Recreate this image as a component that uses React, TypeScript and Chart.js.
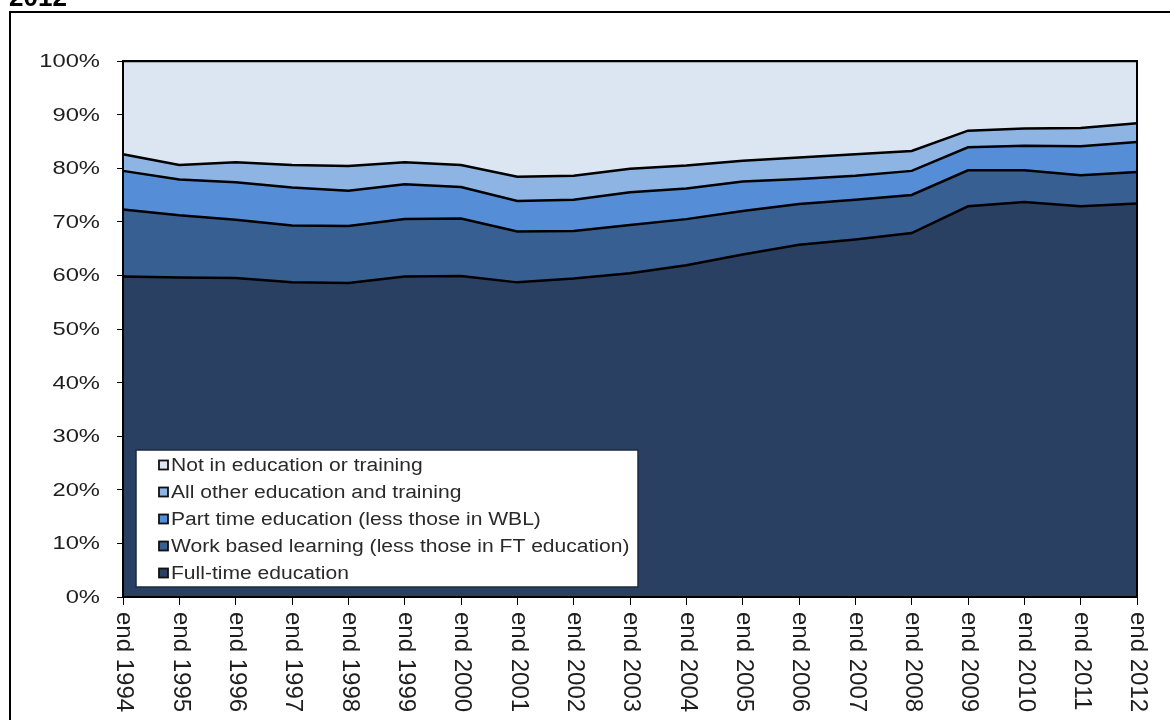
import React, { useEffect, useRef } from "react";
import { Chart, registerables } from "chart.js";

Chart.register(...registerables);

const years = ["1994","1995","1996","1997","1998","1999","2000","2001","2002","2003","2004","2005","2006","2007","2008","2009","2010","2011","2012"];
const categories = years.map((y) => "end " + y);

const fullTime = [59.8,59.6,59.5,58.7,58.6,59.8,59.9,58.7,59.4,60.4,61.9,63.9,65.7,66.7,67.9,72.9,73.7,72.9,73.4];
const workBased = [12.5,11.6,10.9,10.6,10.6,10.7,10.7,9.5,8.9,9.0,8.6,8.1,7.6,7.4,7.1,6.7,5.9,5.8,5.9];
const partTime = [7.2,6.7,7.0,7.1,6.6,6.5,5.9,5.7,5.8,6.1,5.7,5.5,4.7,4.5,4.5,4.3,4.6,5.4,5.6];
const allOther = [3.1,2.7,3.7,4.2,4.6,4.1,4.1,4.5,4.5,4.4,4.3,3.9,4.0,4.0,3.7,3.1,3.2,3.4,3.5];
const notInEd = [17.4,19.4,18.9,19.4,19.6,18.9,19.4,21.6,21.4,20.1,19.5,18.6,18.0,17.4,16.8,13.0,12.6,12.5,11.6];

const yTicks = [0,10,20,30,40,50,60,70,80,90,100];

const seriesNames = [
  "Full-time education",
  "Work based learning (less those in FT education)",
  "Part time education (less those in WBL)",
  "All other education and training",
  "Not in education or training",
];
const seriesColors = ["#2a4063", "#385f91", "#558dd6", "#8eb4e3", "#dce6f2"];
const titleText = "2012";

export default function App() {
  const ref = useRef<HTMLCanvasElement | null>(null);

  useEffect(() => {
    const canvas = ref.current;
    if (!canvas) return;
    const values = [fullTime, workBased, partTime, allOther, notInEd];

    const decor = {
      id: "decor",
      afterDraw(chart: any) {
        const ctx = chart.ctx as CanvasRenderingContext2D;
        const area = chart.chartArea;
        const xs = chart.scales.x;
        const ys = chart.scales.y;
        ctx.save();
        // outer frame
        ctx.strokeStyle = "#000";
        ctx.lineWidth = 2;
        ctx.beginPath();
        ctx.moveTo(10, 720);
        ctx.lineTo(10, 12);
        ctx.lineTo(1170, 12);
        ctx.stroke();
        // title fragment
        ctx.fillStyle = "#000";
        ctx.font = "bold 26px 'Liberation Sans', Arial, sans-serif";
        ctx.textAlign = "left";
        ctx.textBaseline = "alphabetic";
        ctx.fillText(titleText, 9, 6);
        // plot frame
        ctx.lineWidth = 2;
        ctx.strokeRect(area.left, area.top, area.right - area.left, area.bottom - area.top);
        // y labels
        ctx.fillStyle = "#1e1e1e";
        ctx.font = "18px 'Liberation Sans', Arial, sans-serif";
        ctx.textAlign = "right";
        ctx.textBaseline = "middle";
        yTicks.forEach((t) => {
          const y = ys.getPixelForValue(t);
          ctx.save();
          ctx.translate(area.left - 23, y + 1);
          ctx.scale(1.32, 1);
          ctx.fillText(t + "%", 0, 0);
          ctx.restore();
        });
        // x labels rotated
        ctx.font = "24px 'Liberation Sans', Arial, sans-serif";
        ctx.textAlign = "left";
        ctx.textBaseline = "middle";
        categories.forEach((c, i) => {
          const x = xs.getPixelForValue(i);
          ctx.save();
          ctx.translate(x + 1, area.bottom + 15);
          ctx.rotate(Math.PI / 2);
          ctx.fillText(c, 0, 0);
          ctx.restore();
        });
        // legend
        const lx = area.left + 13;
        const ly = area.bottom - 147;
        const lw = 502;
        const lh = 137;
        ctx.fillStyle = "#ffffff";
        ctx.fillRect(lx, ly, lw, lh);
        ctx.strokeStyle = "#1b2a40";
        ctx.lineWidth = 1.5;
        ctx.strokeRect(lx, ly, lw, lh);
        ctx.font = "18px 'Liberation Sans', Arial, sans-serif";
        ctx.textBaseline = "middle";
        for (let k = 0; k < 5; k++) {
          const idx = 4 - k;
          const cy = ly + 15 + k * 27;
          ctx.fillStyle = seriesColors[idx];
          ctx.fillRect(lx + 23, cy - 4.5, 9, 9);
          ctx.strokeStyle = "#111";
          ctx.lineWidth = 1.8;
          ctx.strokeRect(lx + 23, cy - 4.5, 9, 9);
          ctx.fillStyle = "#2a2a2a";
          ctx.save();
          ctx.translate(lx + 35, cy + 1);
          ctx.scale(1.17, 1);
          ctx.fillText(seriesNames[idx], 0, 0);
          ctx.restore();
        }
        ctx.restore();
      },
    };

    const chart = new Chart(canvas, {
      type: "line",
      data: {
        labels: categories,
        datasets: values.map((v, i) => ({
          label: seriesNames[i],
          data: v,
          backgroundColor: seriesColors[i],
          borderColor: "#000",
          borderWidth: 2.5,
          pointRadius: 0,
          tension: 0,
          fill: i === 0 ? "origin" : "-1",
        })),
      },
      options: {
        responsive: false,
        animation: false,
        events: [],
        layout: { padding: { top: 61, right: 33, left: 0, bottom: 0 } },
        plugins: { legend: { display: false }, tooltip: { enabled: false }, title: { display: false } },
        scales: {
          x: {
            offset: false,
            grid: { display: true, drawOnChartArea: false, drawTicks: true, tickLength: 8, color: "#000", lineWidth: 1 },
            border: { display: true, color: "#000", width: 2 },
            ticks: { display: false },
            afterFit: (s: any) => { s.height = 123; },
          },
          y: {
            stacked: true,
            min: 0,
            max: 100,
            grid: { display: true, drawOnChartArea: false, drawTicks: true, tickLength: 6, color: "#000", lineWidth: 1 },
            border: { display: true, color: "#000", width: 2 },
            ticks: { display: false, stepSize: 10 },
            afterFit: (s: any) => { s.width = 123; },
          },
        },
      },
      plugins: [decor],
    } as any);
    return () => chart.destroy();
  }, []);

  return (
    <div style={{ position: "absolute", left: 0, top: 0, width: 1170, height: 720, overflow: "hidden", background: "#fff" }}>
      <canvas ref={ref} width={1170} height={720} style={{ display: "block" }} />
    </div>
  );
}
